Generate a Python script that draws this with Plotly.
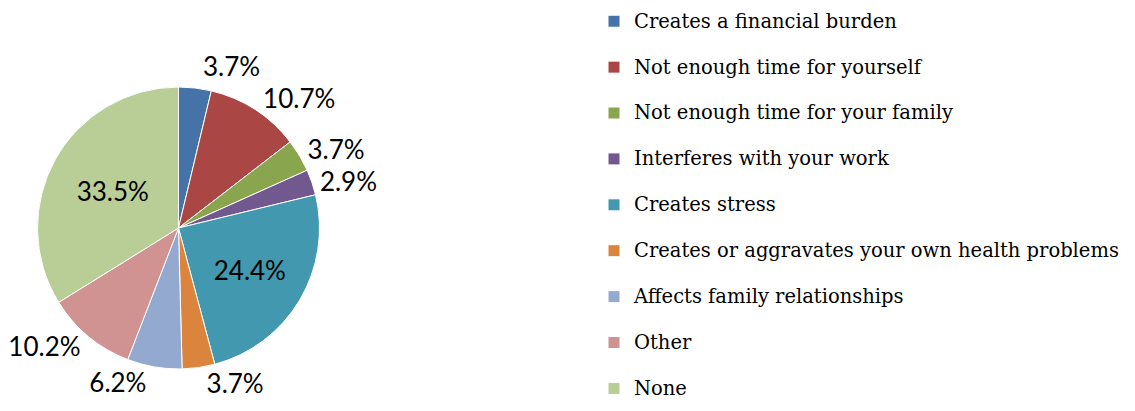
import plotly.graph_objects as go

categories = [
    "Creates a financial burden",
    "Not enough time for yourself",
    "Not enough time for your family",
    "Interferes with your work",
    "Creates stress",
    "Creates or aggravates your own health problems",
    "Affects family relationships",
    "Other",
    "None",
]
values = [3.7, 10.7, 3.7, 2.9, 24.4, 3.7, 6.2, 10.2, 33.5]
colors = ["#4572A7", "#AA4643", "#89A54E", "#71588F", "#4198AF",
          "#DB843D", "#93A9CF", "#D19392", "#B9CD96"]
text_pos = ["outside", "outside", "outside", "outside", "inside",
            "outside", "outside", "outside", "inside"]

W, H = 1135, 411
OFF = 8  # the page body adds an 8px margin top/left

# legend entries: big first line + blank line to get the wide row spacing
legend_labels = [f"<span style='font-size:19.5px'>{c}</span><br> " for c in categories[:-1]]
legend_labels.append(f"<span style='font-size:19.5px'>{categories[-1]}</span>")

# text is coloured inline; the base outside colour is white so leader lines vanish
pct_text = [f"<span style='color:black'>{v}%</span>" for v in values]

# pie in the reference: centre (178.5, 228), radius 141 (screen px)
cx, cy, r = 178.5 - OFF, 228 - OFF, 141

fig = go.Figure()
fig.add_trace(go.Pie(
    labels=legend_labels,
    values=values,
    text=pct_text,
    textinfo="text",
    textposition=text_pos,
    sort=False,
    direction="clockwise",
    rotation=0,
    marker=dict(colors=colors, line=dict(color="white", width=1)),
    textfont=dict(family="Lato", size=26, color="black"),
    insidetextfont=dict(family="Lato", size=26, color="black"),
    outsidetextfont=dict(family="Lato", size=26, color="white"),
    insidetextorientation="horizontal",
    domain=dict(x=[(cx - r) / W, (cx + r) / W],
                y=[(H - cy - r) / H, (H - cy + r) / H]),
    hoverinfo="skip",
))

fig.update_layout(
    width=W,
    height=H,
    margin=dict(l=0, r=0, t=0, b=0, autoexpand=False),
    paper_bgcolor="white",
    showlegend=True,
    legend=dict(
        x=586 / W, xanchor="left",
        y=1 + 4 / H, yanchor="top",
        maxheight=600,
        font=dict(family="DejaVu Serif", size=16.5, color="black"),
        valign="top",
        bgcolor="rgba(0,0,0,0)",
    ),
)

fig.write_html("out.html")
